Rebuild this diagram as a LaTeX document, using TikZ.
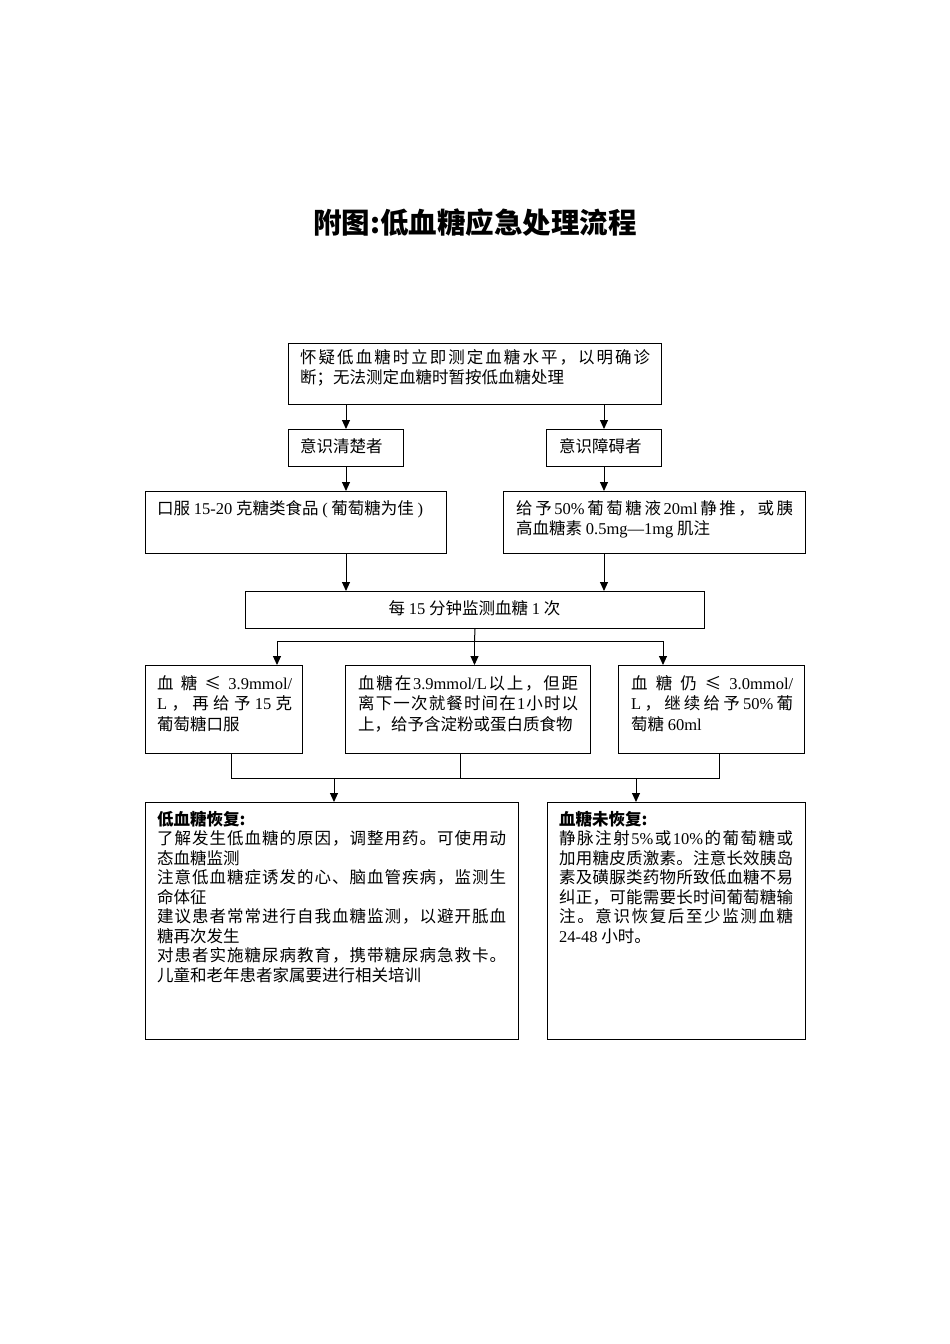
\documentclass[tikz,border=0pt]{standalone}
\usepackage{fontspec}
\setmainfont{Noto Sans CJK SC}
\newfontfamily\latf{Liberation Serif}
\usetikzlibrary{arrows.meta}
\makeatletter
\def\spEnd{\spEnd@}
\def\spList#1{\spA#1\spEnd}
\def\spA#1{{#1}\spB}
\def\spB#1{\ifx\spEnd#1\else\hskip0pt plus1fil{#1}\expandafter\spB\fi}
\makeatother
\newcommand\J[2]{\makebox[#1][s]{\spList{#2}}}
\begin{document}
\begin{tikzpicture}[x=1pt,y=-1pt,
  box/.style={draw, line width=1pt, rectangle, inner sep=0pt, anchor=north west},
  txt/.style={anchor=base west, align=left, inner sep=0pt, font=\fontsize{16.5}{20.5}\selectfont},
  txtb/.style={txt, font=\fontsize{16.5}{19.5}\selectfont},
  arr/.style={-{Triangle[length=9pt,width=8pt]}, line width=1pt},
  ln/.style={line width=1pt}]
\useasboundingbox (0,0) rectangle (950,1344);
\node[font=\fontsize{28.5}{28.5}\selectfont\bfseries, anchor=base, inner sep=0pt] (title) at (475,233) {附图:低血糖应急处理流程};
% boxes
\node[box, minimum width=373pt, minimum height=61pt] (b1) at (288,343) {};
\node[box, minimum width=115pt, minimum height=37pt] (b2) at (288,429) {};
\node[box, minimum width=115pt, minimum height=37pt] (b3) at (546,429) {};
\node[box, minimum width=301pt, minimum height=62pt] (b4) at (145,491) {};
\node[box, minimum width=302pt, minimum height=62pt] (b5) at (503,491) {};
\node[box, minimum width=459pt, minimum height=37pt] (b6) at (245,591) {};
\node[box, minimum width=157pt, minimum height=88pt] (b7) at (145,665) {};
\node[box, minimum width=245pt, minimum height=88pt] (b8) at (345,665) {};
\node[box, minimum width=186pt, minimum height=88pt] (b9) at (618,665) {};
\node[box, minimum width=373pt, minimum height=237pt] (b10) at (145,802) {};
\node[box, minimum width=258pt, minimum height=237pt] (b11) at (547,802) {};
% texts (base anchor = baseline of the last line)
\node[txt] (t1) at (300,383.5) {\J{350pt}{怀疑低血糖时立即测定血糖水平，以明确诊}\\断；无法测定血糖时暂按低血糖处理};
\node[txt] (t2) at (300,452) {意识清楚者};
\node[txt] (t3) at (559,452) {意识障碍者};
\node[txt] (t4) at (157,514) {口服 {\latf 15-20} 克糖类食品 {\latf (} 葡萄糖为佳 {\latf )}};
\node[txt] (t5) at (516,534.5) {\J{277pt}{给予{\latf 50\%}葡萄糖液{\latf 20ml}静推，或胰}\\高血糖素 {\latf 0.5mg—1mg} 肌注};
\node[txt, anchor=base] (t6) at (474.5,614) {每 {\latf 15} 分钟监测血糖 {\latf 1} 次};
\node[txt] (t7) at (157,730) {\J{135pt}{血糖≤{\latf 3.9mmol/}}\\\J{135pt}{{\latf L}，再给予{\latf 15}克}\\葡萄糖口服};
\node[txt] (t8) at (358,730) {\J{220pt}{血糖在{\latf 3.9mmol/L}以上，但距}\\\J{220pt}{离下一次就餐时间在{\latf 1}小时以}\\上，给予含淀粉或蛋白质食物};
\node[txt] (t9) at (631,730) {\J{162pt}{血糖仍≤{\latf 3.0mmol/}}\\\J{162pt}{{\latf L}，继续给予{\latf 50\%}葡}\\萄糖 {\latf 60ml}};
\node[txtb] (t10) at (157,981) {{\bfseries 低血糖恢复:}\\
\J{349pt}{了解发生低血糖的原因，调整用药。可使用动}\\
态血糖监测\\
\J{349pt}{注意低血糖症诱发的心、脑血管疾病，监测生}\\
命体征\\
\J{349pt}{建议患者常常进行自我血糖监测，以避开胝血}\\
糖再次发生\\
\J{349pt}{对患者实施糖尿病教育，携带糖尿病急救卡。}\\
儿童和老年患者家属要进行相关培训};
\node[txtb] (t11) at (559,942) {{\bfseries 血糖未恢复:}\\
\J{234pt}{静脉注射{\latf 5\%}或{\latf 10\%}的葡萄糖或}\\
\J{234pt}{加用糖皮质激素。注意长效胰岛}\\
\J{234pt}{素及磺脲类药物所致低血糖不易}\\
\J{234pt}{纠正，可能需要长时间葡萄糖输}\\
\J{234pt}{注。意识恢复后至少监测血糖}\\
{\latf 24-48} 小时。};
% connectors
\draw[arr] (b2.north |- b1.south) -- (b2.north);
\draw[arr] (b3.north |- b1.south) -- (b3.north);
\draw[arr] (b2.south) -- (b2.south |- b4.north);
\draw[arr] (b3.south) -- (b3.south |- b5.north);
\draw[arr] (b2.south |- b4.south) -- (b2.south |- b6.north);
\draw[arr] (b3.south |- b5.south) -- (b3.south |- b6.north);
\coordinate (s1) at (277,641);
\coordinate (s2) at (474.5,641);
\coordinate (s3) at (663,641);
\draw[ln] (b6.south) -- (s2);
\draw[ln] (s1) -- (s3);
\draw[arr] (s1) -- (s1 |- b7.north);
\draw[arr] (s2) -- (s2 |- b8.north);
\draw[arr] (s3) -- (s3 |- b9.north);
\coordinate (m1) at (231,778);
\coordinate (m2) at (460,778);
\coordinate (m3) at (719,778);
\draw[ln] (m1 |- b7.south) -- (m1) -- (m3) -- (m3 |- b9.south);
\draw[ln] (m2 |- b8.south) -- (m2);
\coordinate (a1) at (334,778);
\coordinate (a2) at (636,778);
\draw[arr] (a1) -- (a1 |- b10.north);
\draw[arr] (a2) -- (a2 |- b11.north);
\end{tikzpicture}
\end{document}
